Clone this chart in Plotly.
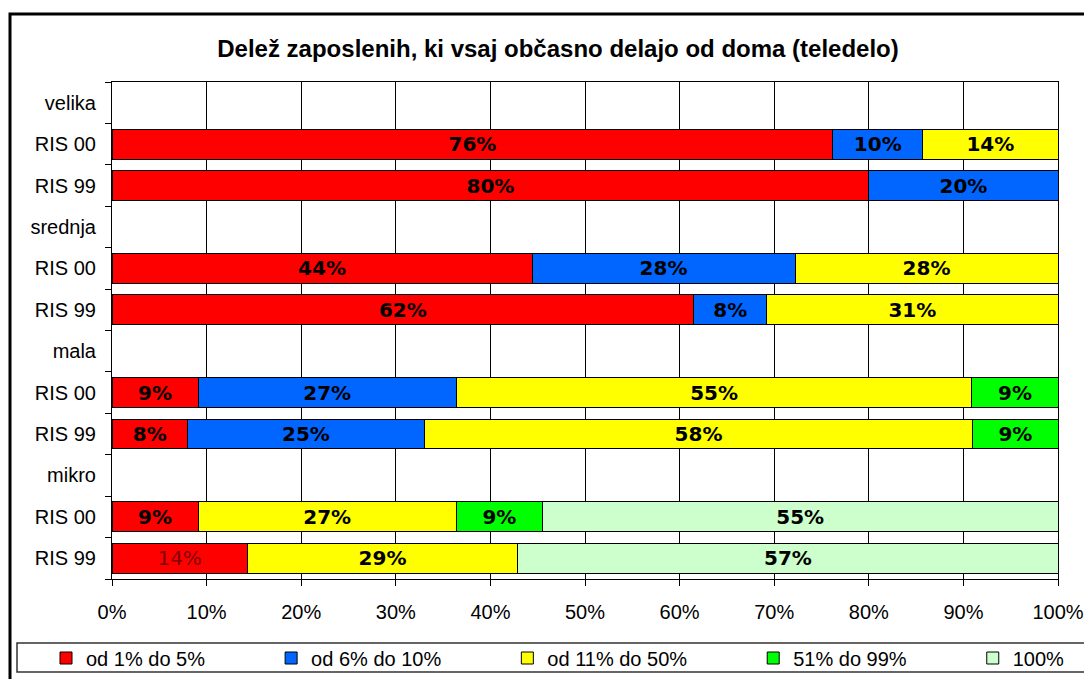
import plotly.graph_objects as go

# ---- data ----
rows = ["velika", "RIS 00", "RIS 99", "srednja", "RIS 00", "RIS 99",
        "mala", "RIS 00", "RIS 99", "mikro", "RIS 00", "RIS 99"]
series_names = ["od 1% do 5%", "od 6% do 10%", "od 11% do 50%", "51% do 99%", "100%"]
od_1_5 = [None, 76.2, 80.0, None, 44.4, 61.5, None, 9.1, 8.0, None, 9.1, 14.3]
od_6_10 = [None, 9.5, 20.0, None, 27.8, 7.7, None, 27.3, 25.0, None, None, None]
od_11_50 = [None, 14.3, None, None, 27.8, 30.8, None, 54.5, 58.0, None, 27.3, 28.6]
od_51_99 = [None, None, None, None, None, None, None, 9.1, 9.0, None, 9.1, None]
p_100 = [None, None, None, None, None, None, None, None, None, None, 54.5, 57.1]
x_tick_vals = [0, 10, 20, 30, 40, 50, 60, 70, 80, 90, 100]
x_tick_text = ["0%", "10%", "20%", "30%", "40%", "50%", "60%", "70%", "80%", "90%", "100%"]

series = [od_1_5, od_6_10, od_11_50, od_51_99, p_100]
colors = ["#FF0000", "#0066FF", "#FFFF00", "#00FF00", "#CCFFCC"]

ypos = list(range(len(rows)))

# the page body has an 8px margin; the figure is sized to fit the 1092x679 window
W, H = 1084, 671
OFF = 8
L, T = 112 - OFF, 82 - OFF
PW, PH = 946, 497
R = W - L - PW
B = H - T - PH


def px_x(x):  # screen x -> paper x
    return (x - 112) / PW


def px_y(y):  # screen y -> paper y
    return (579 - y) / PH


pad = "\u00a0" * 11

fig = go.Figure()
for i, (name, vals, col) in enumerate(zip(series_names, series, colors)):
    if i == 0:
        tmpl = ["<b>%{x:.0f}%</b>"] * (len(vals) - 1) + ["%{x:.0f}%"]
        tcol = ["#000000"] * (len(vals) - 1) + ["#800000"]
    else:
        tmpl = "<b>%{x:.0f}%</b>"
        tcol = "#000000"
    fig.add_trace(go.Bar(
        name=name + (pad if i < len(series_names) - 1 else ""),
        y=ypos, x=vals, orientation="h",
        marker=dict(color=col, line=dict(color="#000000", width=1)),
        width=0.72,
        texttemplate=tmpl, textposition="inside", insidetextanchor="middle",
        textangle=0, constraintext="none",
        textfont=dict(family="DejaVu Sans", size=20, color=tcol),
        hoverinfo="skip",
    ))

fig.update_layout(
    width=W, height=H,
    barmode="stack",
    paper_bgcolor="white", plot_bgcolor="white",
    margin=dict(l=L, r=R, t=T, b=B, autoexpand=False),
    font=dict(family="Liberation Sans, Arial", size=20, color="#000000"),
    title=dict(text="<b>Delež zaposlenih, ki vsaj občasno delajo od doma (teledelo)</b>",
               font=dict(family="Liberation Sans, Arial", size=24, color="#000000"),
               x=px_x(558), xref="paper", xanchor="center",
               y=1 - (49 - OFF) / H, yref="container", yanchor="middle"),
    xaxis=dict(range=[0, 100], tickvals=x_tick_vals, ticktext=x_tick_text,
               showgrid=True, gridcolor="#000000", gridwidth=1,
               showline=True, linecolor="#000000", linewidth=1, mirror=True,
               ticks="outside", ticklen=6, tickcolor="#000000",
               ticklabelstandoff=9, zeroline=False, fixedrange=True),
    yaxis=dict(range=[len(rows) - 0.5, -0.5], tickvals=ypos, ticktext=rows,
               showgrid=False, showline=True, linecolor="#000000", linewidth=1,
               mirror=True, ticks="", ticklabelstandoff=11,
               minor=dict(ticks="outside", tick0=-0.5, dtick=1, ticklen=6,
                          tickcolor="#000000", showgrid=False),
               zeroline=False, fixedrange=True),
    legend=dict(orientation="h", x=px_x(46), xanchor="left",
                y=px_y(658), yanchor="middle",
                font=dict(family="Liberation Sans, Arial", size=20),
                bgcolor="rgba(0,0,0,0)", traceorder="normal"),
    showlegend=True,
    shapes=[
        # chart area border
        dict(type="rect", xref="paper", yref="paper",
             x0=px_x(10), x1=1.2, y0=-0.5, y1=px_y(14),
             line=dict(color="#000000", width=3), fillcolor="rgba(0,0,0,0)", layer="below"),
        # legend box
        dict(type="rect", xref="paper", yref="paper",
             x0=px_x(17), x1=1.2, y0=px_y(672), y1=px_y(643),
             line=dict(color="#333333", width=1.5), fillcolor="rgba(0,0,0,0)"),
    ],
)

fig.write_html("out.html")
